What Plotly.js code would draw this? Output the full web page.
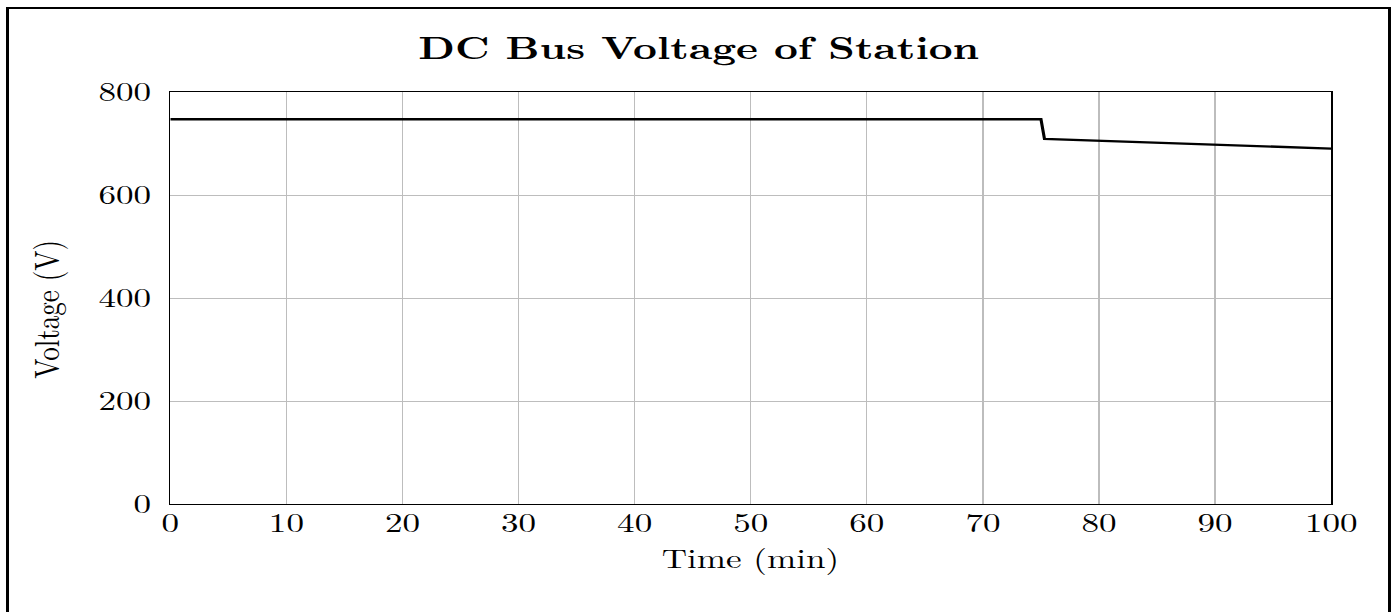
<!DOCTYPE html>
<html><head><meta charset="utf-8">
<script src="https://cdn.plot.ly/plotly-3.0.1.min.js"></script>
<style>
html,body{margin:0;padding:0;background:#fff;overflow:hidden;}
#frame{position:absolute;left:6px;top:7px;width:1385px;height:640px;border-style:solid;border-color:#000;border-width:2px 3px 2px 3px;box-sizing:border-box;pointer-events:none;z-index:5;}
#wrap{position:absolute;left:0;top:0;width:1075px;height:612px;transform:scaleX(1.3);transform-origin:0 0;}
#plot{width:1075px;height:612px;}
</style></head>
<body>
<div id="wrap"><div id="plot"></div></div><div id="frame"></div>
<script>
const timeMin = [0, 75, 75.3, 100];
const voltage = [747, 747, 709, 690];
const xTicks = [0,10,20,30,40,50,60,70,80,90,100];
const yTicks = [0,200,400,600,800];
const xLabel = 'Time (min)';
const yLabel = 'Voltage (V)';
const chartTitle = 'DC Bus Voltage of Station';
const font = "'Latin Modern Roman', 'Liberation Serif', 'DejaVu Serif', serif";
Plotly.newPlot('plot', [{
  x: timeMin, y: voltage, type: 'scatter', mode: 'lines',
  line: {color: '#000', width: 2.4}, hoverinfo: 'skip'
}], {
  width: 1075, height: 612,
  margin: {l: 131, r: 51, t: 92, b: 108},
  paper_bgcolor: '#fff', plot_bgcolor: '#fff',
  showlegend: false,
  title: {text: '<b>' + chartTitle + '</b>', font: {family: font, size: 32, color: '#000'}, x: 0.5, xanchor: 'center', y: 0.922, yanchor: 'middle'},
  xaxis: {range: [0, 100], tickvals: xTicks, ticktext: xTicks.map(String),
    showgrid: true, gridcolor: '#bdbdbd', gridwidth: 1,
    showline: true, linecolor: '#000', linewidth: 1.3, mirror: true,
    zeroline: false, ticks: '', ticklabelstandoff: -6, tickfont: {family: font, size: 27, color: '#000'}},
  yaxis: {range: [0, 800], tickvals: yTicks, ticktext: yTicks.map(String),
    showgrid: true, gridcolor: '#bdbdbd', gridwidth: 1,
    showline: true, linecolor: '#000', linewidth: 1.3, mirror: true,
    zeroline: false, ticks: '', ticklabelstandoff: 8, tickfont: {family: font, size: 27, color: '#000'}},
  annotations: [
    {text: xLabel, xref: 'paper', yref: 'paper', x: 0.5, y: -0.128, xanchor: 'center', yanchor: 'middle', showarrow: false, font: {family: font, size: 27, color: '#000'}},
    {text: yLabel, xref: 'paper', yref: 'paper', x: -0.108, y: 0.473, xanchor: 'center', yanchor: 'middle', textangle: -90, showarrow: false, font: {family: font, size: 27, color: '#000'}}
  ]
}, {staticPlot: true});
</script>
</body></html>
